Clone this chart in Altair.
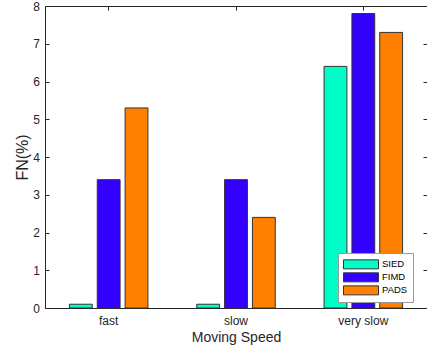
import altair as alt
import pandas as pd

categories = ["fast", "slow", "very slow"]
methods = ["SIED", "FIMD", "PADS"]
sied = [0.1, 0.1, 6.4]
fimd = [3.4, 3.4, 7.8]
pads = [5.3, 2.4, 7.3]
colors = ["#00FFC8", "#3300FF", "#FF8000"]
y_ticks = [0, 1, 2, 3, 4, 5, 6, 7, 8]

rows = []
for i, c in enumerate(categories):
    for m, vals in zip(methods, [sied, fimd, pads]):
        rows.append({"speed": c, "method": m, "fn": vals[i]})
df = pd.DataFrame(rows)

FONT = "Liberation Sans"
AX = "#262626"

xscale = alt.Scale(domain=categories, paddingInner=0.344, paddingOuter=0.172)
yscale = alt.Scale(domain=[0, 8], nice=False, zero=True)
offscale = alt.Scale(domain=methods, paddingInner=0.18, paddingOuter=0.09)

base = alt.Chart(df)

bars = base.mark_bar(stroke="#333333", strokeWidth=1).encode(
    x=alt.X("speed:N", scale=xscale, sort=categories,
            axis=alt.Axis(orient="bottom", title="Moving Speed", labelAngle=0,
                          ticks=False, tickSize=0, labelPadding=7.5,
                          labelFontSize=12, titleFontSize=14, titleFontWeight="normal",
                          labelFont=FONT, titleFont=FONT, labelColor=AX, titleColor=AX,
                          domainColor=AX, domainWidth=1, titlePadding=3.5, grid=False)),
    xOffset=alt.XOffset("method:N", scale=offscale, sort=methods),
    y=alt.Y("fn:Q", scale=yscale,
            axis=alt.Axis(orient="left", title="FN(%)", values=y_ticks, format="d",
                          ticks=False, tickSize=0, labelPadding=5.5,
                          labelFontSize=12, titleFontSize=16, titleFontWeight="normal",
                          labelFont=FONT, titleFont=FONT, labelColor=AX, titleColor=AX,
                          domainColor=AX, domainWidth=1, titlePadding=2, grid=False)),
    color=alt.Color("method:N", scale=alt.Scale(domain=methods, range=colors), sort=methods,
                    legend=alt.Legend(title=None, orient="none", legendX=293, legendY=247,
                                      symbolType="M-1,-0.257H1V0.257H-1Z", symbolSize=1225,
                                      symbolStrokeColor="#333333", symbolStrokeWidth=1,
                                      labelFontSize=9.5, labelFont=FONT, labelColor="#000000",
                                      labelOffset=3, clipHeight=12.7, padding=5,
                                      strokeColor="#999999", fillColor="white",
                                      rowPadding=0, cornerRadius=0)),
)

def tick_axis(orient, offset=-4, domain=False, ticks=True, values=None):
    kw = dict(orient=orient, offset=offset, title=None, labels=False, domain=domain,
              ticks=ticks, grid=False, tickColor=AX, tickWidth=1, domainColor=AX, domainWidth=1)
    if ticks:
        kw["tickSize"] = 4
    else:
        kw["tickSize"] = 0
    if values is not None:
        kw["values"] = values
    return alt.Axis(**kw)

layer2 = base.mark_bar(opacity=0).encode(
    x=alt.X("speed:N", scale=xscale, sort=categories, axis=tick_axis("bottom")),
    y=alt.Y("fn:Q", scale=yscale, axis=tick_axis("left", values=y_ticks)),
)
layer3 = base.mark_bar(opacity=0).encode(
    x=alt.X("speed:N", scale=xscale, sort=categories, axis=tick_axis("top")),
    y=alt.Y("fn:Q", scale=yscale, axis=tick_axis("right", values=y_ticks)),
)
layer4 = base.mark_bar(opacity=0).encode(
    x=alt.X("speed:N", scale=xscale, sort=categories,
            axis=tick_axis("top", offset=0, domain=True, ticks=False)),
    y=alt.Y("fn:Q", scale=yscale, axis=None),
)

chart = alt.layer(bars, layer2, layer3, layer4).resolve_axis(
    x="independent", y="independent"
).properties(
    width=382, height=302,
    autosize=alt.AutoSizeParams(type="none"),
    padding={"left": 45, "top": 6, "right": 0, "bottom": 44},
    background="white",
).configure_view(stroke=None)

chart.save("out.html", embed_options={"renderer": "svg", "actions": False})
